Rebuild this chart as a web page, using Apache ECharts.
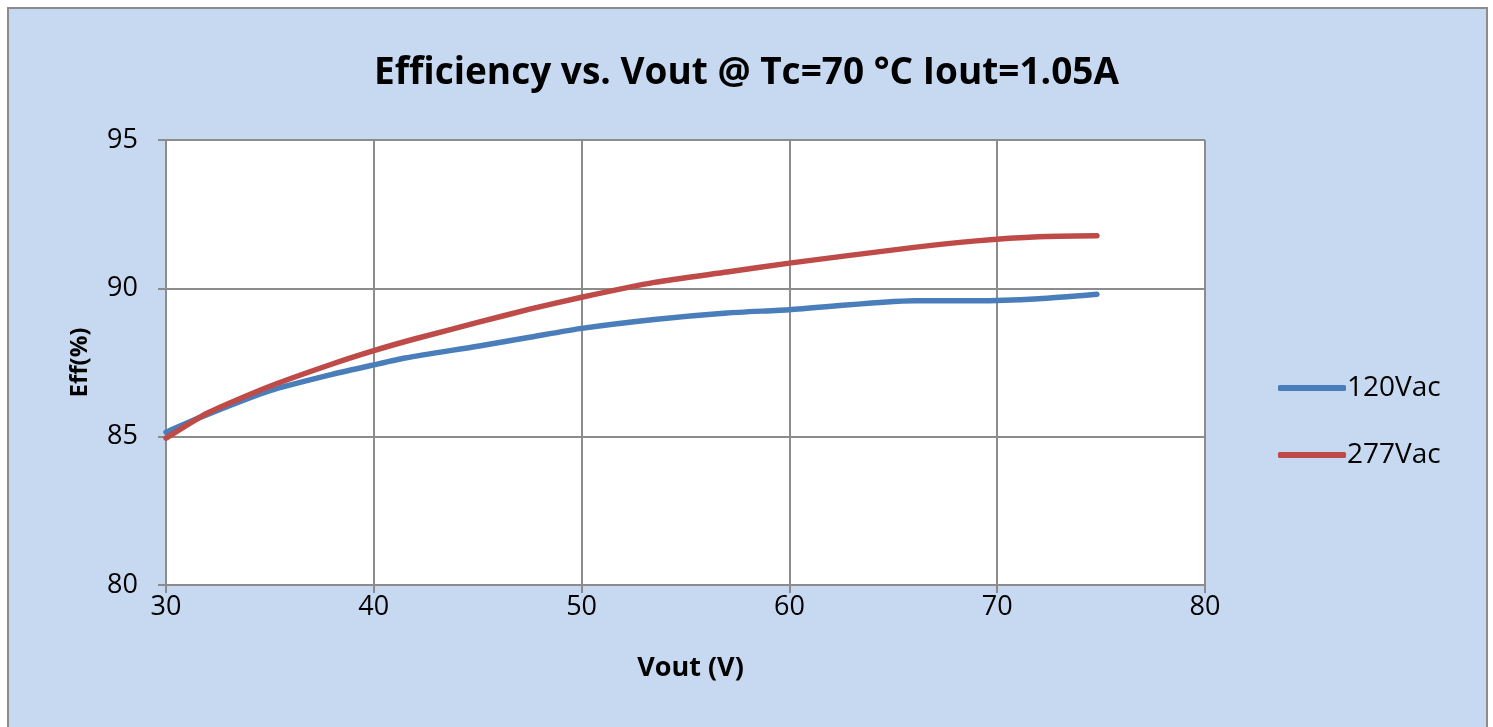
<!DOCTYPE html>
<html><head><meta charset="utf-8">
<script src="https://cdn.jsdelivr.net/npm/echarts@6/dist/echarts.min.js"></script>
<style>html,body{margin:0;padding:0;background:#fff;}#c{width:1493px;height:727px;}</style>
</head><body><div id="c"></div>
<script>
const titleText = "Efficiency vs. Vout @ Tc=70 °C Iout=1.05A";
const seriesNames = ["120Vac", "277Vac"];
const vout120 = [30, 32, 35, 38, 40, 41.5, 45, 47.5, 50, 53.5, 57, 60, 66, 69, 72, 74.8];
const eff120 = [85.15, 85.75, 86.55, 87.1, 87.42, 87.65, 88.05, 88.35, 88.65, 88.95, 89.17, 89.28, 89.58, 89.58, 89.65, 89.8];
const vout277 = [30, 32, 35, 38, 40, 42, 45, 47.5, 50, 53.5, 57, 60, 66, 69, 72, 74.8];
const eff277 = [84.95, 85.8, 86.7, 87.45, 87.9, 88.3, 88.85, 89.3, 89.7, 90.2, 90.55, 90.85, 91.38, 91.6, 91.74, 91.77];
const xTicks = [30, 40, 50, 60, 70, 80];
const yTicks = [80, 85, 90, 95];

const chart = echarts.init(document.getElementById('c'));
const gridColor = '#8c8c8c';
const font = '"Open Sans", "Noto Sans", sans-serif';
chart.setOption({
  backgroundColor: '#fff',
  animation: false,
  graphic: [{
    type: 'rect', z: -10, silent: true,
    shape: {x: 8, y: 8, width: 1479, height: 730},
    style: {fill: '#c6d9f1', stroke: '#8c8c8c', lineWidth: 2}
  }],
  title: {
    text: titleText, left: 'center', top: 50,
    textStyle: {fontFamily: font, fontWeight: 'bold', fontSize: 37, color: '#000'}
  },
  legend: {
    orient: 'vertical', left: 1278, top: 374, itemGap: 39, padding: 0,
    itemWidth: 68, itemHeight: 6, icon: 'roundRect',
    textStyle: {fontFamily: font, fontSize: 28, color: '#000', padding: [0,0,0,-4]},
    data: seriesNames
  },
  grid: {left: 166, top: 140, width: 1039, height: 445, show: true, backgroundColor: '#fff', borderColor: gridColor, borderWidth: 1},
  xAxis: {
    type: 'value', min: 30, max: 80, interval: 10,
    name: 'Vout (V)', nameLocation: 'middle', nameGap: 70,
    nameTextStyle: {fontFamily: font, fontWeight: 'bold', fontSize: 27, color: '#000', padding: [0,0,0,10]},
    axisLine: {show: true, lineStyle: {color: gridColor, width: 2}},
    axisTick: {show: true, length: 8, lineStyle: {color: gridColor, width: 2}},
    axisLabel: {fontFamily: font, fontSize: 27, color: '#000', margin: 9,
      formatter: v => xTicks.includes(v) ? String(v) : ''},
    splitLine: {show: true, lineStyle: {color: gridColor, width: 2}}
  },
  yAxis: {
    type: 'value', min: 80, max: 95, interval: 5,
    name: 'Eff(%)', nameLocation: 'middle', nameGap: 74, nameRotate: 90,
    nameTextStyle: {fontFamily: font, fontWeight: 'bold', fontSize: 24, color: '#000'},
    axisLine: {show: true, lineStyle: {color: gridColor, width: 2}},
    axisTick: {show: true, length: 8, lineStyle: {color: gridColor, width: 2}},
    axisLabel: {fontFamily: font, fontSize: 27, color: '#000', margin: 28,
      formatter: v => yTicks.includes(v) ? String(v) : ''},
    splitLine: {show: true, lineStyle: {color: gridColor, width: 2}}
  },
  series: [
    {name: seriesNames[0], type: 'line', showSymbol: false, smooth: 0.2,
     data: vout120.map((x, i) => [x, eff120[i]]),
     lineStyle: {color: '#4a7ebb', width: 5.5, cap: 'round', join: 'round'}, itemStyle: {color: '#4a7ebb'}},
    {name: seriesNames[1], type: 'line', showSymbol: false, smooth: 0.2,
     data: vout277.map((x, i) => [x, eff277[i]]),
     lineStyle: {color: '#be4b48', width: 5.5, cap: 'round', join: 'round'}, itemStyle: {color: '#be4b48'}}
  ]
});
</script></body></html>
